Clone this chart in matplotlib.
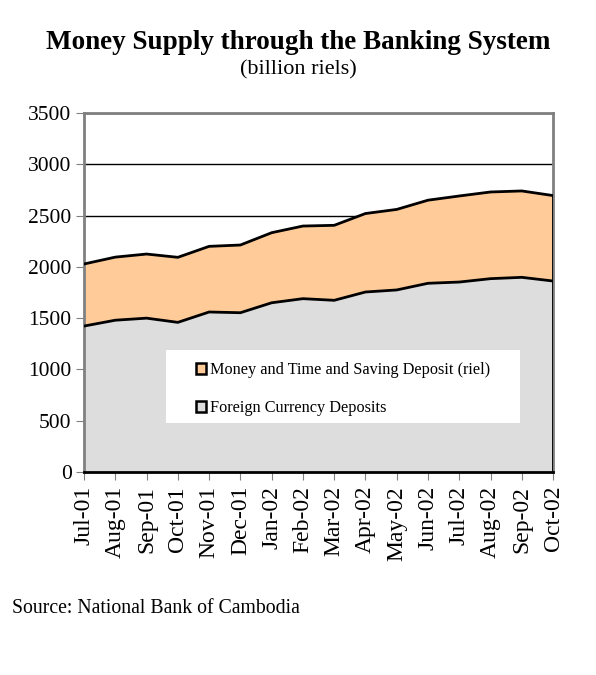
import numpy as np
import matplotlib.pyplot as plt
from matplotlib.patches import Patch, Rectangle

plt.rcParams["font.family"] = ["Liberation Serif", "DejaVu Serif"]

# Data (billion riels)
months = ["Jul-01", "Aug-01", "Sep-01", "Oct-01", "Nov-01", "Dec-01", "Jan-02", "Feb-02",
          "Mar-02", "Apr-02", "May-02", "Jun-02", "Jul-02", "Aug-02", "Sep-02", "Oct-02"]
foreign = [1423, 1480, 1500, 1459, 1560, 1553, 1650, 1690,
           1674, 1755, 1775, 1840, 1852, 1885, 1898, 1862]
total = [2028, 2095, 2125, 2093, 2200, 2213, 2333, 2398,
         2405, 2520, 2560, 2650, 2691, 2730, 2740, 2695]
riel = [t - f for t, f in zip(total, foreign)]

col_riel = "#FFCC99"
col_fx = "#DDDDDD"

fig = plt.figure(figsize=(5.96, 6.75), dpi=100)
ax = fig.add_axes([0.141, 0.3007, 0.787, 0.5319])

x = np.arange(len(months))
ax.stackplot(x, foreign, riel, colors=[col_fx, col_riel], zorder=2)
ax.plot(x, foreign, color="black", lw=2, zorder=3)
ax.plot(x, np.array(foreign) + np.array(riel), color="black", lw=2, zorder=3)
ax.plot([x[-1], x[-1]], [0, total[-1]], color="black", lw=2, zorder=3)

ax.set_xlim(0, len(months) - 1)
ax.set_ylim(0, 3500)
ax.set_yticks(range(0, 3501, 500))
ax.yaxis.grid(True, color="black", lw=1)
ax.set_axisbelow(True)
ax.set_xticks(x)
ax.set_xticklabels(months, rotation=90, fontsize=17)
ax.tick_params(axis="y", labelsize=15.5, direction="out", length=6, color="#808080", pad=3)
ax.tick_params(axis="x", direction="out", length=6, color="#808080", pad=4)

for s in ["top", "right", "left"]:
    ax.spines[s].set_color("#808080")
    ax.spines[s].set_linewidth(2)
ax.spines["bottom"].set_color("black")
ax.spines["bottom"].set_linewidth(2)
ax.spines["bottom"].set_zorder(4)

# white legend box, drawn separately so the entries can sit off-centre like the original
ax.add_patch(Rectangle((0.175, 0.1365), 0.755, 0.2033, transform=ax.transAxes,
                       facecolor="white", edgecolor="none", zorder=5))
handles = [Patch(facecolor=col_riel, edgecolor="black", lw=1.8, label="Money and Time and Saving Deposit (riel)"),
           Patch(facecolor=col_fx, edgecolor="black", lw=1.8, label="Foreign Currency Deposits")]
leg = ax.legend(handles=handles, loc="upper left", bbox_to_anchor=(0.238, 0.307), borderaxespad=0,
                frameon=False, fontsize=11.7, handlelength=0.65, handleheight=0.65,
                handletextpad=0.25, labelspacing=1.37, borderpad=0)
leg.set_zorder(6)

fig.text(0.5, 0.937, "Money Supply through the Banking System", ha="center", va="center",
         fontsize=19.5, fontweight="bold")
fig.text(0.5, 0.896, "(billion riels)", ha="center", va="center", fontsize=16)
fig.text(0.02, 0.098, "Source: National Bank of Cambodia", ha="left", va="center", fontsize=14.2)

fig.savefig("out.png", dpi=100)
